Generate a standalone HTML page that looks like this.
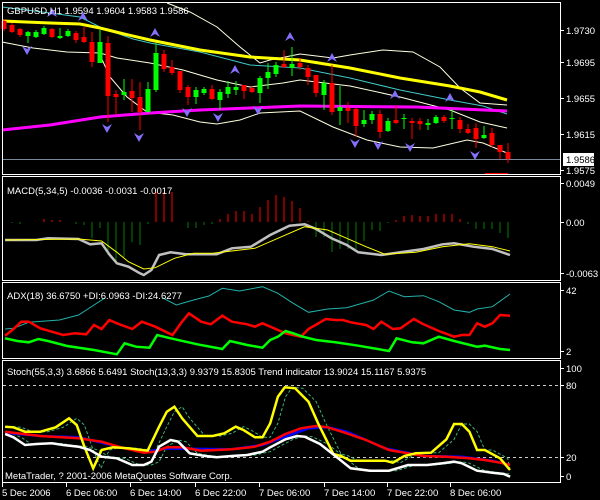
<!DOCTYPE html>
<html><head><meta charset="utf-8">
<style>
html,body{margin:0;padding:0;background:#000;width:600px;height:500px;overflow:hidden}
svg{display:block}
text{font-family:"Liberation Sans",sans-serif;font-size:9.5px;fill:#fff}
</style></head>
<body>
<svg id="s" width="600" height="500" xmlns="http://www.w3.org/2000/svg">
<rect width="600" height="500" fill="#000"/>
<g id="g"></g>
<g fill="none" stroke="#fff" stroke-width="1">
<rect x="2.5" y="2.5" width="558" height="172"/>
<rect x="2.5" y="176.5" width="558" height="104"/>
<rect x="2.5" y="282.5" width="558" height="76"/>
<rect x="2.5" y="360.5" width="558" height="122"/>
</g>
<text x="7" y="14">GBPUSD,H1  1.9594 1.9604 1.9583 1.9586</text>
<text x="566" y="34">1.9730</text>
<text x="566" y="66">1.9695</text>
<text x="566" y="102">1.9655</text>
<text x="566" y="138">1.9615</text>
<text x="566" y="174">1.9575</text>
<rect x="563" y="153" width="31" height="13" fill="#fff"/>
<text x="566" y="163" style="fill:#000">1.9586</text>
<text x="7" y="194">MACD(5,34,5) -0.0036 -0.0031 -0.0017</text>
<text x="566" y="187">0.0049</text>
<text x="566" y="226">0.00</text>
<text x="566" y="277">-0.0063</text>
<text x="7" y="299">ADX(18) 36.6750 +DI:6.0963 -DI:24.6277</text>
<text x="566" y="294">42</text>
<text x="566" y="355">2</text>
<text x="7" y="375">Stoch(55,3,3) 3.6866 5.6491  Stoch(13,3,3) 9.9379 15.8305  Trend indicator 13.9024 15.1167 5.9375</text>
<text x="566" y="372">100</text>
<text x="566" y="389">80</text>
<text x="566" y="461">20</text>
<text x="566" y="480">0</text>
<text x="5" y="479">MetaTrader, ? 2001-2006 MetaQuotes Software Corp.</text>
<text x="2" y="496">5 Dec 2006</text>
<text x="66" y="496">6 Dec 06:00</text>
<text x="130" y="496">6 Dec 14:00</text>
<text x="195" y="496">6 Dec 22:00</text>
<text x="259" y="496">7 Dec 06:00</text>
<text x="324" y="496">7 Dec 14:00</text>
<text x="387" y="496">7 Dec 22:00</text>
<text x="450" y="496">8 Dec 06:00</text>
</svg>
<script>
var o='';
function pl(pts,c,w,d){o+='<polyline fill="none" stroke="'+c+'" stroke-width="'+w+'"'+(d?' stroke-dasharray="'+d+'"':'')+' points="'+pts.map(function(p){return p[0].toFixed(1)+','+p[1].toFixed(1)}).join(' ')+'"/>';}
function cv(a,off){var r=[];for(var i=0;i<a.length;i+=2)r.push([a[i]/2.61+2,a[i+1]/3+off]);return r;}
function pp(a){var r=[];for(var i=0;i<a.length;i+=2)r.push([a[i],a[i+1]]);return r;}
o+='<line x1="2" y1="159.5" x2="560" y2="159.5" stroke="#778899"/>';
o+='<line x1="485" y1="173.5" x2="508" y2="173.5" stroke="#f00"/>';
pl(pp([167,3,190,12,217,27,240,47,260,63,270,60,300,54,333,58,350,55,383,50,413,52,440,67,460,88,480,103,507,105]),'#ffffe0',1);
pl(pp([2,42,33,48,67,52,100,53,117,58,150,63,183,70,217,80,250,87,283,83,300,80,350,86,400,97,450,110,480,122,507,128]),'#ffffe0',1);
pl(pp([100,55,110,77,127,97,147,112,173,115,200,122,217,124,240,120,260,113,300,111,333,127,367,140,400,147,433,148,467,140,483,143,507,153]),'#ffffe0',1);
pl(pp([2,7,50,13,80,17,100,27,133,39,150,43,200,52,250,65,300,68,350,78,400,90,450,100,483,106,507,114]),'#40c8c8',1);
pl(pp([2,130,50,125,100,117,150,113,200,110,250,108,300,106,417,107,507,111]),'#ff00ff',3);
pl(pp([2,21,50,23,80,24,100,28,120,33,150,40,200,50,250,57,300,60,350,68,400,78,450,86,480,92,507,100]),'#ffff00',3);
var C=[[21,29,19,31,0],[25,32,23,33,0],[29,35,28,37,0],[32,36,31,43,1],[32,37,30,38,1],[28,34,26,35,1],[29,37,28,38,0],[36,38,28,39,1],[31,36,29,37,1],[33,40,31,43,0],[37,42,27,43,0],[42,62,32,67,0],[42,63,30,63,1],[43,96,36,122,0],[94,97,90,115,0],[92,95,79,100,1],[91,98,79,112,0],[97,112,82,130,0],[89,112,82,113,1],[53,90,43,92,1],[54,69,50,72,0],[67,73,60,75,0],[71,90,71,93,0],[87,97,85,105,0],[90,97,87,104,1],[89,93,87,95,1],[89,99,85,100,0],[92,100,89,110,1],[87,94,81,98,1],[87,90,81,95,1],[85,91,85,99,0],[88,92,86,93,0],[78,93,76,103,1],[72,78,63,89,1],[65,74,62,77,1],[64,67,50,68,0],[64,68,47,76,1],[63,67,58,70,0],[68,77,65,85,0],[75,93,75,97,0],[83,95,80,110,1],[83,112,65,115,0],[107,111,86,125,1],[108,111,102,123,0],[109,126,108,137,0],[120,124,110,127,1],[114,120,111,124,1],[114,132,110,138,0],[121,131,118,132,1],[120,123,105,124,0],[118,119,114,129,1],[121,123,118,139,0],[121,124,118,130,0],[123,125,119,130,1],[117,123,115,124,1],[117,121,115,123,0],[118,119,109,129,1],[120,129,117,133,0],[129,133,124,134,0],[128,139,123,148,0],[135,138,126,139,1],[133,145,128,147,0],[145,152,145,159,0],[152,159,143,163,0]];
C.forEach(function(c,i){var x=3.5+8*i,col=c[4]?'#00ff00':'#ff0000';
o+='<line x1="'+(x+0.5)+'" y1="'+c[2]+'" x2="'+(x+0.5)+'" y2="'+c[3]+'" stroke="'+col+'"/>';
o+='<rect x="'+(x-2)+'" y="'+c[0]+'" width="5" height="'+Math.max(1,c[1]-c[0])+'" fill="'+col+'"/>';});
function up(x,y){o+='<path d="M'+x+','+(y-5)+' L'+(x-5)+','+(y+4)+' L'+x+','+(y+1)+' L'+(x+5)+','+(y+4)+'Z" fill="#8470ff"/>';}
function dn(x,y){o+='<path d="M'+x+','+(y+5)+' L'+(x-5)+','+(y-4)+' L'+x+','+(y-1)+' L'+(x+5)+','+(y-4)+'Z" fill="#8470ff"/>';}
[[52,13],[83,17],[155,33],[235,70],[290,37],[332,58],[395,95],[450,98]].forEach(function(p){up(p[0],p[1]);});
[[27,50],[107,128],[139,137],[187,112],[218,117],[258,110],[355,143],[378,145],[410,147],[475,155]].forEach(function(p){dn(p[0],p[1]);});
var H=[222,223,224,222,222,219,220,220,222,224,225,238,228,255,262,257,242,245,224,192,192,192,222,228,228,225,224,219,214,211,211,214,207,200,195,197,201,208,221,237,237,252,249,249,249,241,230,231,223,220,216,215,216,216,214,214,214,219,224,229,229,229,233,238];
H.forEach(function(v,i){if(Math.abs(v-222)<1)return;var x=4+8*i;o+='<line x1="'+x+'" y1="222" x2="'+x+'" y2="'+v+'" stroke="'+(v<222?'#ff0000':'#008000')+'"/>';});
pl(cv([8,225,90,225,120,220,200,222,230,238,260,235,280,268,300,295,330,305,360,325,370,330,390,315,410,270,440,262,480,268,520,268,560,268,600,250,650,245,700,210,750,182,790,178,820,192,860,220,900,240,930,262,990,270,1040,262,1100,252,1150,238,1180,235,1230,245,1280,252,1326,270],165),'#c0c0c0',2.5);
pl(cv([8,225,200,222,260,228,300,262,330,290,370,312,400,308,450,280,500,265,550,265,660,250,720,220,790,185,850,195,900,220,950,245,1000,268,1080,262,1150,245,1220,236,1280,245,1326,258],165),'#ffff00',1);
pl(cv([8,492,30,490,70,472,150,465,200,450,240,420,270,398],165),'#20b2aa',1);
pl(cv([418,398,455,420,500,405,540,393,575,370,620,378,680,365,720,385,760,415,800,442,850,432,900,428,970,405,1010,378,1050,395,1100,392,1140,410,1180,435,1220,442,1240,432,1280,425,1326,387],165),'#20b2aa',1);
pl(cv([8,512,30,492,50,470,70,470,100,490,130,500,160,510,190,505,220,508,240,480,260,492,280,465,300,475,340,492,365,470,400,485,445,510,470,470,488,445,520,470,545,478,575,452,600,470,640,478,660,485,680,475,720,495,740,505,780,515,800,492,845,462,870,465,890,465,910,472,950,480,970,492,990,470,1020,492,1040,490,1075,462,1100,478,1140,498,1180,515,1200,510,1220,510,1240,475,1260,485,1280,475,1300,450,1326,452],165),'#ff0000',2.5);
pl(cv([8,520,40,528,70,532,95,522,120,528,170,543,240,555,300,568,320,535,350,545,385,548,405,510,440,520,510,538,575,552,595,528,640,540,680,548,700,525,720,515,740,498,760,505,785,515,820,525,870,532,930,542,1010,558,1030,520,1070,532,1100,535,1140,515,1180,528,1240,545,1260,542,1300,552,1326,555],165),'#00ff00',2.5);
o+='<line x1="3" y1="385.5" x2="560" y2="385.5" stroke="#ccc" stroke-dasharray="3,3"/>';
o+='<line x1="3" y1="457.5" x2="560" y2="457.5" stroke="#ccc" stroke-dasharray="3,3"/>';
var Y=[8,230,30,232,60,245,100,245,140,232,175,205,195,225,215,290,238,355,260,300,290,292,330,295,380,302,410,230,430,185,450,170,470,205,510,258,550,258,580,250,610,230,630,240,660,262,680,262,700,220,720,140,738,112,765,115,800,155,825,220,865,312,885,318,910,332,1000,332,1020,338,1050,318,1080,310,1120,308,1160,268,1180,222,1200,222,1220,245,1240,300,1260,300,1300,325,1326,360];
var W=[8,252,30,262,60,285,90,282,130,280,160,285,200,290,230,300,260,320,300,325,340,345,370,345,390,335,410,290,440,270,460,275,490,310,530,318,560,322,600,318,640,315,680,305,700,292,740,268,770,258,790,260,830,282,870,318,910,355,960,362,1010,362,1060,345,1110,345,1150,340,1180,335,1200,340,1240,362,1280,368,1310,372,1326,380];
function sh(a){var r=a.slice();for(var i=0;i<r.length;i+=2){r[i]=Math.min(1326,r[i]+20);}return r;}
pl(cv(sh(Y),350),'#3cb371',1,'3,2');
pl(cv(sh(W),350),'#3cb371',1,'3,2');
pl(cv([8,248,100,258,200,262,260,278,320,295,380,305,420,296,470,296,600,298,680,285,740,260,800,235,850,232,900,245,1000,295,1100,318,1200,320,1280,332,1326,345],350),'#0000ff',2.5);
pl(cv([8,245,100,258,200,265,260,275,320,295,370,308,400,305,430,292,470,292,520,302,600,298,660,290,700,275,740,252,780,235,820,228,850,232,900,250,950,270,1010,300,1060,310,1100,318,1160,320,1220,325,1260,330,1300,338,1326,345],350),'#ff0000',2.5);
pl(cv(Y,350),'#ffff00',2.5);
pl(cv(W,350),'#ffffff',2.5);
[2,66,130,195,259,324,387,450].forEach(function(x){o+='<line x1="'+(x+0.5)+'" y1="483" x2="'+(x+0.5)+'" y2="487" stroke="#fff"/>';});
[30,62,98,134,170,183,222,273,290,351,368,385,457,476].forEach(function(y){o+='<line x1="561" y1="'+(y+0.5)+'" x2="564" y2="'+(y+0.5)+'" stroke="#fff"/>';});
document.getElementById('g').innerHTML=o;
</script>
</body></html>
